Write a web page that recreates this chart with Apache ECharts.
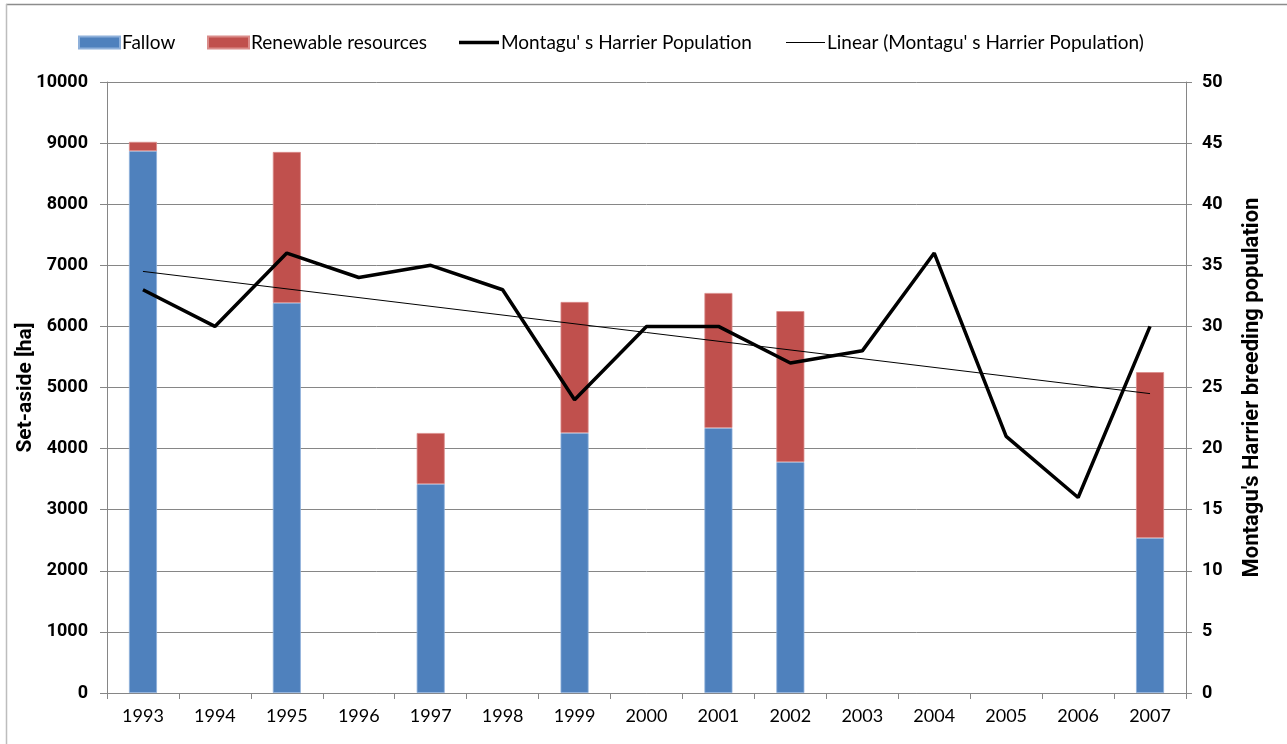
<!DOCTYPE html>
<html>
<head>
<meta charset="utf-8">
<script src="https://cdn.jsdelivr.net/npm/echarts@6/dist/echarts.min.js"></script>
<style>
    html, body { margin: 0; padding: 0; background: #fff; }
    #chart { width: 1287px; height: 744px; }
</style>
</head>
<body>
<div id="chart"></div>
<script>
// 年份
const years = ['1993', '1994', '1995', '1996', '1997', '1998', '1999', '2000', '2001', '2002', '2003', '2004', '2005', '2006', '2007']
// 休耕面积 (ha)
const fallow = [8870, null, 6385, null, 3420, null, 4255, null, 4337, 3780, null, null, null, null, 2537]
// 可再生资源面积 (ha)，堆叠在休耕上面
const renewable = [150, null, 2470, null, 835, null, 2145, null, 2210, 2470, null, null, null, null, 2715]
// 鹞鹰繁殖数量
const harrier = [33, 30, 36, 34, 35, 33, 24, 30, 30, 27, 28, 36, 21, 16, 30]
// 趋势线，只读了两端
const trend = [34.5, null, null, null, null, null, null, null, null, null, null, null, null, null, 24.5]

const font = 'Lato'
const boldFont = 'Roboto'
const gray = '#868686'

const chart = echarts.init(document.getElementById('chart'))

function legendAt(left, name, w, h) {
    return {
        left: left,
        top: 33,
        padding: 0,
        data: [{ name: name, icon: 'rect' }],
        itemWidth: w,
        itemHeight: h,
        itemGap: 0,
        textStyle: { fontFamily: font, fontSize: 19, color: '#000', padding: [0, 0, 0, -3] }
    }
}

const option = {
    animation: false,
    textStyle: { fontFamily: font },
    graphic: [
        { type: 'line', shape: { x1: 6, y1: 4.5, x2: 1287, y2: 4.5 }, style: { stroke: '#8c8c8c', lineWidth: 1.5 } },
        { type: 'line', shape: { x1: 6.5, y1: 4, x2: 6.5, y2: 744 }, style: { stroke: '#bdbdbd', lineWidth: 1.5 } }
    ],
    legend: [
        legendAt(78, 'Fallow', 41, 12),
        legendAt(207, 'Renewable resources', 41, 12),
        legendAt(459, "Montagu' s Harrier Population", 40, 3.5),
        legendAt(786, "Linear (Montagu' s Harrier Population)", 39, 1)
    ],
    grid: { left: 107, right: 101, top: 82, bottom: 51 },
    xAxis: {
        type: 'category',
        data: years,
        boundaryGap: true,
        axisLine: { lineStyle: { color: gray } },
        axisTick: { show: true, length: 6, lineStyle: { color: gray } },
        axisLabel: { color: '#000', fontSize: 18, fontFamily: font, margin: 14 }
    },
    yAxis: [
        {
            type: 'value',
            min: 0,
            max: 10000,
            interval: 1000,
            name: 'Set-aside [ha]',
            nameLocation: 'middle',
            nameGap: 71,
            nameMoveOverlap: false,
            nameTextStyle: { fontSize: 21, fontWeight: 'bold', color: '#000', fontFamily: boldFont },
            axisLine: { show: true, lineStyle: { color: gray } },
            axisTick: { show: true, length: 7, lineStyle: { color: gray } },
            axisLabel: { color: '#000', fontSize: 18, fontWeight: 'bold', fontFamily: boldFont, margin: 19, formatter: v => String(v) },
            splitLine: { lineStyle: { color: gray, width: 1 } }
        },
        {
            type: 'value',
            min: 0,
            max: 50,
            interval: 5,
            name: "Montagu's Harrier breeding population",
            nameLocation: 'middle',
            nameGap: 55,
            nameTextStyle: { fontSize: 22, fontWeight: 'bold', color: '#000', fontFamily: boldFont },
            axisLine: { show: true, lineStyle: { color: gray } },
            axisTick: { show: true, length: 6, lineStyle: { color: gray } },
            axisLabel: { color: '#000', fontSize: 18, fontWeight: 'bold', fontFamily: boldFont, margin: 16 },
            splitLine: { show: false }
        }
    ],
    series: [
        {
            name: 'Fallow',
            type: 'bar',
            stack: 'area',
            barWidth: 28,
            data: fallow,
            itemStyle: { color: '#4F81BD', borderColor: '#8EB0DA', borderWidth: 0.8 }
        },
        {
            name: 'Renewable resources',
            type: 'bar',
            stack: 'area',
            barWidth: 28,
            data: renewable,
            itemStyle: { color: '#C0504D', borderColor: '#DA8C8A', borderWidth: 0.8 }
        },
        {
            name: "Montagu' s Harrier Population",
            type: 'line',
            yAxisIndex: 1,
            data: harrier,
            symbol: 'none',
            lineStyle: { color: '#000', width: 3.5 },
            itemStyle: { color: '#000' },
            z: 5
        },
        {
            name: "Linear (Montagu' s Harrier Population)",
            type: 'line',
            yAxisIndex: 1,
            data: trend,
            connectNulls: true,
            symbol: 'none',
            lineStyle: { color: '#000', width: 1 },
            itemStyle: { color: '#000' },
            z: 4
        }
    ]
}

chart.setOption(option)
</script>
</body>
</html>
